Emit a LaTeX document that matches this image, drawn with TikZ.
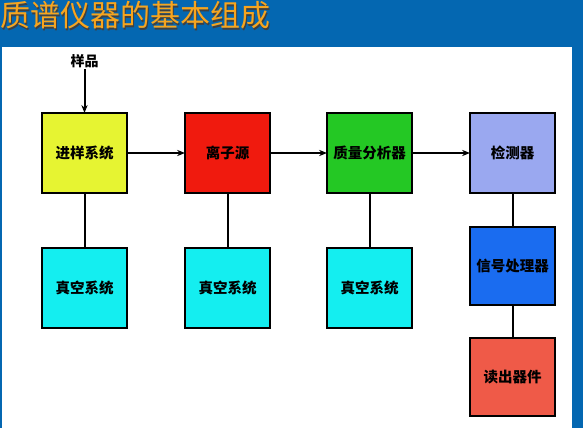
\documentclass[tikz,border=0pt]{standalone}
\usepackage{fontspec}
\newfontfamily\cjk{Noto Sans CJK SC}
\usetikzlibrary{positioning, arrows.meta}
\definecolor{slideblue}{HTML}{0467B1}
\definecolor{titleorange}{HTML}{F7A51E}
\definecolor{inletyellow}{HTML}{E6F432}
\definecolor{ionred}{HTML}{F01A0E}
\definecolor{massgreen}{HTML}{24C824}
\definecolor{detlilac}{HTML}{9AA8F0}
\definecolor{vaccyan}{HTML}{14EEF0}
\definecolor{sigblue}{HTML}{1A6CF0}
\definecolor{readsalmon}{HTML}{EF5A48}
\newcommand{\shadowtext}[1]{\makebox[0pt][l]{\hspace{1.3pt}\raisebox{-1.3pt}{\color{black!75}#1}}#1}

\begin{document}
\begin{tikzpicture}[
  x=1pt, y=-1pt,
  >={Stealth[length=2.8mm, width=2.2mm]},
  every node/.style={font=\cjk\bfseries\fontsize{14.5}{16}\selectfont},
  box/.style    = {draw=black, line width=2.4pt, minimum width=85pt, minimum height=80pt, inner sep=0pt, outer sep=0pt},
  inlet/.style  = {box, fill=inletyellow},
  ion/.style    = {box, fill=ionred},
  mass/.style   = {box, fill=massgreen},
  det/.style    = {box, fill=detlilac},
  vac/.style    = {box, fill=vaccyan},
  sig/.style    = {box, fill=sigblue, minimum height=78pt},
  rdout/.style  = {box, fill=readsalmon, minimum height=78pt},
  arr/.style    = {->, line width=2pt},
  link/.style   = {line width=2pt},
  heading/.style= {font=\cjk\fontsize{30}{32}\selectfont, text=titleorange, anchor=west, inner sep=0pt},
]
  \useasboundingbox (0,0) rectangle (583,428);
  \fill[slideblue] (0,0) rectangle (583,428);
  \fill[white] (2,47) rectangle (572,428);
  \node[heading] (title) at (0,16) {\shadowtext{质谱仪器的基本组成}};

  \node[inlet]                         (inlet) at (84.5,153) {进样系统};
  \node[ion,   right=58pt of inlet]    (ion)   {离子源};
  \node[mass,  right=57pt of ion]      (mass)  {质量分析器};
  \node[det,   right=58pt of mass]     (det)   {检测器};
  \node[vac,   below=55pt of inlet]    (vac1)  {真空系统};
  \node[vac,   below=55pt of ion]      (vac2)  {真空系统};
  \node[vac,   below=55pt of mass]     (vac3)  {真空系统};
  \node[sig,   below=34pt of det]      (sig)   {信号处理器};
  \node[rdout, below=33pt of sig]      (rdout) {读出器件};
  \node[font=\cjk\bfseries\fontsize{14}{15}\selectfont, inner sep=1pt] (sample) at (84.5,61) {样品};

  \draw[arr] (sample) -- (inlet);
  \foreach \a/\b in {inlet/ion,ion/mass,mass/det}\draw[arr](\a)--(\b);
  \foreach \a/\b in {inlet/vac1,ion/vac2,mass/vac3,det/sig,sig/rdout}\draw[link](\a)--(\b);
\end{tikzpicture}
\end{document}
